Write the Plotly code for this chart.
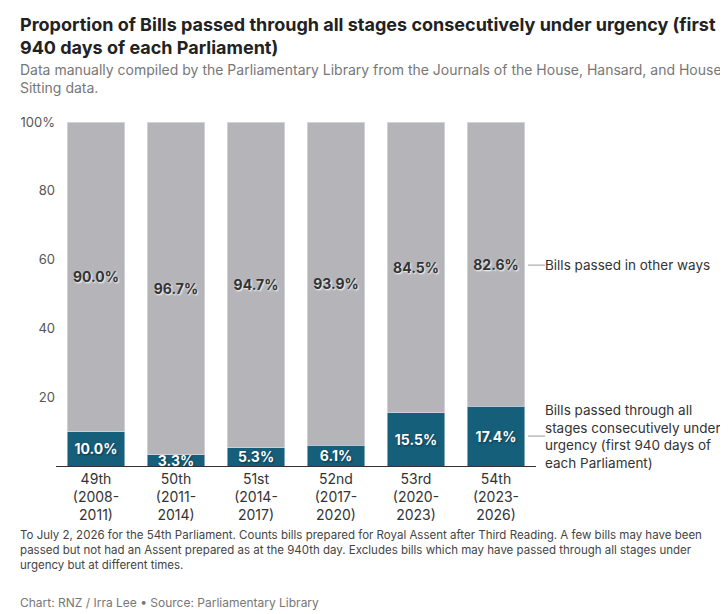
import plotly.graph_objects as go

parliaments = ["49th<br>(2008-<br>2011)", "50th<br>(2011-<br>2014)", "51st<br>(2014-<br>2017)",
               "52nd<br>(2017-<br>2020)", "53rd<br>(2020-<br>2023)", "54th<br>(2023-<br>2026)"]
urgency = [10.0, 3.3, 5.3, 6.1, 15.5, 17.4]
other = [90.0, 96.7, 94.7, 93.9, 84.5, 82.6]

TEAL = "#165f7b"
GRAY = "#b4b4b9"
F = "Inter, Roboto, sans-serif"

fig = go.Figure()
fig.add_bar(x=parliaments, y=urgency, marker_color=TEAL, name="urgency",
            text=[f"{v:.1f}%" for v in urgency], textposition="inside",
            insidetextanchor="middle", constraintext="none",
            textfont=dict(color="white", size=14, family=F, weight="bold", shadow="1px 1px 2px #0b3446"))
fig.add_bar(x=parliaments, y=other, marker_color=GRAY, name="other",
            text=[f"{v:.1f}%" for v in other], textposition="inside",
            insidetextanchor="middle", constraintext="none",
            textfont=dict(color="#333", size=14, family=F, weight="bold", shadow="1px 1px 2px white"))

L, R, T, B = 48, 528, 114, 458
W, H = R - L, B - T
def px(x): return (x - L) / W
def py(y): return (B - y) / H

fig.update_layout(
    width=728, height=614, barmode="stack", bargap=0.28, showlegend=False,
    plot_bgcolor="white", paper_bgcolor="white",
    margin=dict(l=L, r=728 - R, t=T, b=614 - B),
    font=dict(family=F, color="#444", size=13),
    xaxis=dict(tickfont=dict(size=14, color="#333"), showline=True, linecolor="#333", ticks=""),
    yaxis=dict(range=[0, 100], tickvals=[0, 20, 40, 60, 80, 100],
               ticktext=["", "20", "40", "60", "80", "100%"], showgrid=False,
               tickfont=dict(size=13, color="#555"), zeroline=False),
)

anns = [
    dict(y=py(4), text="<b>Proportion of Bills passed through all stages consecutively under urgency (first<br>940 days of each Parliament)</b>",
         font=dict(size=18, color="#222"), yanchor="top"),
    dict(y=py(51), text="Data manually compiled by the Parliamentary Library from the Journals of the House, Hansard, and House<br>Sitting data.",
         font=dict(size=14, color="#777"), yanchor="top"),
    dict(y=py(518), text="To July 2, 2026 for the 54th Parliament. Counts bills prepared for Royal Assent after Third Reading. A few bills may have been<br>passed but not had an Assent prepared as at the 940th day. Excludes bills which may have passed through all stages under<br>urgency but at different times.",
         font=dict(size=11.5, color="#444"), yanchor="top"),
    dict(y=py(594), text="Chart: RNZ / Irra Lee • Source: Parliamentary Library",
         font=dict(size=12, color="#777"), yanchor="middle"),
]
for a in anns:
    fig.add_annotation(xref="paper", yref="paper", x=px(10), xanchor="left", showarrow=False, align="left", **a)

fig.add_annotation(x=px(535), y=58.4, xref="paper", yref="y", text="Bills passed in other ways",
                   showarrow=False, xanchor="left", align="left", font=dict(size=13.5, color="#333"))
fig.add_annotation(x=px(535), y=8.7, xref="paper", yref="y",
                   text="Bills passed through all<br>stages consecutively under<br>urgency (first 940 days of<br>each Parliament)",
                   showarrow=False, xanchor="left", align="left", font=dict(size=13.5, color="#333"))
fig.add_shape(type="line", xref="paper", yref="y", x0=px(520), x1=px(537), y0=58.4, y1=58.4, line=dict(color="#999", width=1))
fig.add_shape(type="line", xref="paper", yref="y", x0=px(520), x1=px(537), y0=8.7, y1=8.7, line=dict(color="#999", width=1))

fig.write_html("out.html")
